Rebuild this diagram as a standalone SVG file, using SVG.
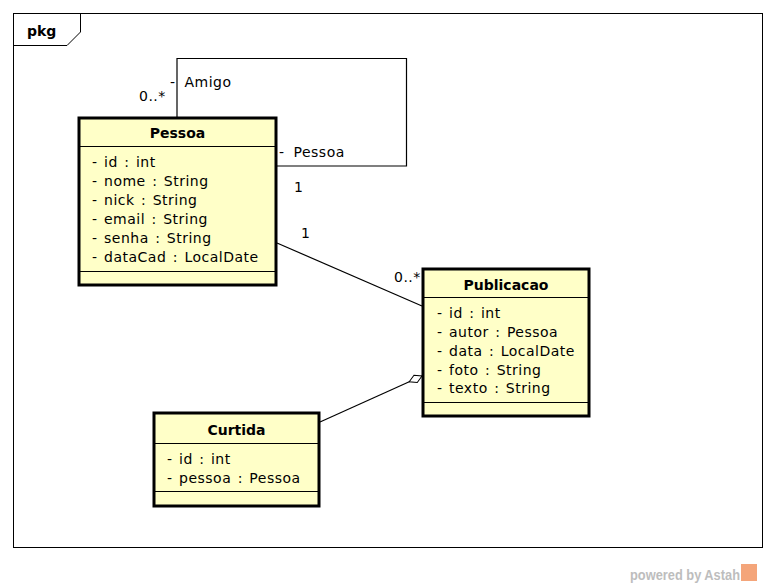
<svg xmlns="http://www.w3.org/2000/svg" width="776" height="588" viewBox="0 0 776 588">
<style>
text{font-family:"DejaVu Sans","Liberation Sans",sans-serif;font-size:14px;fill:#000}
.a{word-spacing:1.5px;letter-spacing:0.5px}
.b{font-weight:bold}
.box{fill:#ffffc8;stroke:#000;stroke-width:3}
.div{stroke:#000;stroke-width:1.2}
.ln{fill:none;stroke:#000;stroke-width:1.2}
</style>
<defs>
<marker id="dia" markerWidth="16" markerHeight="10" refX="15" refY="5" orient="auto" markerUnits="userSpaceOnUse">
<path d="M1,5 L8,1 L15,5 L8,9 Z" fill="#fff" stroke="#000" stroke-width="1"/>
</marker>
</defs>
<rect x="0" y="0" width="776" height="588" fill="#fff"/>
<g id="frame">
<rect x="13.5" y="13.5" width="749" height="534" fill="none" stroke="#000" stroke-width="1"/>
<path d="M13.5,45.5 H67 L80.5,32 V13.5" fill="none" stroke="#000" stroke-width="1"/>
<text x="27" y="36" class="b">pkg</text>
</g>
<g id="connectors">
<path class="ln" d="M177,117 V58.5 H406.5 V166 H277"/>
<text x="170" y="87" class="a" style="word-spacing:4px">- Amigo</text>
<text x="139" y="101" class="a">0..*</text>
<text x="279" y="157" class="a" style="word-spacing:4px">- Pessoa</text>
<text x="294" y="192">1</text>
<line class="ln" x1="277" y1="243" x2="422" y2="306"/>
<text x="301" y="238">1</text>
<text x="394" y="282" class="a">0..*</text>
<line class="ln" x1="320" y1="422" x2="422" y2="376" marker-end="url(#dia)"/>
</g>
<g id="Pessoa">
<rect class="box" x="79" y="118" width="197" height="167"/>
<line class="div" x1="79" y1="146.5" x2="276" y2="146.5"/>
<line class="div" x1="79" y1="271.5" x2="276" y2="271.5"/>
<text x="177.5" y="138" class="b" text-anchor="middle">Pessoa</text>
<text x="92" y="167" class="a">- id : int</text>
<text x="92" y="186" class="a">- nome : String</text>
<text x="92" y="205" class="a">- nick : String</text>
<text x="92" y="224" class="a">- email : String</text>
<text x="92" y="243" class="a">- senha : String</text>
<text x="92" y="262" class="a">- dataCad : LocalDate</text>
</g>
<g id="Publicacao">
<rect class="box" x="423" y="269" width="166" height="147"/>
<line class="div" x1="423" y1="297.5" x2="589" y2="297.5"/>
<line class="div" x1="423" y1="402.5" x2="589" y2="402.5"/>
<text x="506" y="290" class="b" text-anchor="middle">Publicacao</text>
<text x="437" y="318" class="a">- id : int</text>
<text x="437" y="337" class="a">- autor : Pessoa</text>
<text x="437" y="356" class="a">- data : LocalDate</text>
<text x="437" y="375" class="a">- foto : String</text>
<text x="437" y="393" class="a">- texto : String</text>
</g>
<g id="Curtida">
<rect class="box" x="154" y="413" width="165" height="93"/>
<line class="div" x1="154" y1="443.5" x2="319" y2="443.5"/>
<line class="div" x1="154" y1="491.5" x2="319" y2="491.5"/>
<text x="236.5" y="435" class="b" text-anchor="middle">Curtida</text>
<text x="167" y="464" class="a">- id : int</text>
<text x="167" y="483" class="a">- pessoa : Pessoa</text>
</g>
<g id="watermark">
<text x="630" y="580" class="b" textLength="110" lengthAdjust="spacingAndGlyphs" style="fill:#bdbdbd;font-family:'Liberation Sans',sans-serif;font-size:15px">powered by Astah</text>
<rect x="741" y="564" width="16" height="17" fill="#f4a57a"/>
</g>
</svg>
